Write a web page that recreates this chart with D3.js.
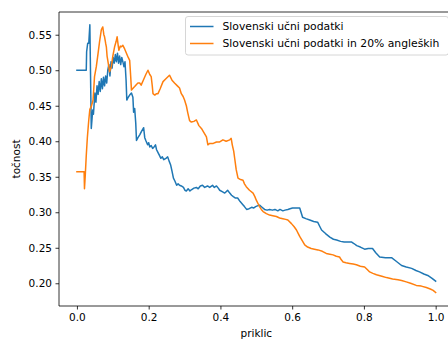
<!DOCTYPE html>
<html>
<head>
<meta charset="utf-8">
<script src="https://cdn.jsdelivr.net/npm/d3@7"></script>
<style>
  body { margin: 0; background: #fff; }
  text { font-family: "DejaVu Sans", sans-serif; }
</style>
</head>
<body>
<svg id="chart" width="448" height="340"></svg>
<script>
// Precision–recall curves: [priklic, točnost]
const seriesNames = ["Slovenski učni podatki", "Slovenski učni podatki in 20% angleških"];
const seriesColors = ["#1f77b4", "#ff7f0e"];

const curveSl = [
  [0, 0.50], [0.026, 0.50], [0.027, 0.526], [0.030, 0.538], [0.033, 0.538], [0.036, 0.564],
  [0.040, 0.418], [0.044, 0.444], [0.046, 0.438], [0.050, 0.468], [0.053, 0.455], [0.056, 0.478],
  [0.059, 0.466], [0.062, 0.484], [0.065, 0.470], [0.068, 0.488], [0.071, 0.474], [0.074, 0.490],
  [0.077, 0.478], [0.080, 0.492], [0.083, 0.482], [0.086, 0.500], [0.089, 0.508], [0.092, 0.492],
  [0.095, 0.512], [0.098, 0.503], [0.101, 0.518], [0.104, 0.510], [0.107, 0.522], [0.110, 0.512],
  [0.113, 0.524], [0.116, 0.510], [0.119, 0.520], [0.122, 0.508], [0.125, 0.518], [0.128, 0.512],
  [0.131, 0.505], [0.134, 0.512], [0.137, 0.486], [0.139, 0.458], [0.143, 0.462], [0.147, 0.465],
  [0.152, 0.468], [0.156, 0.462], [0.158, 0.441], [0.161, 0.446], [0.164, 0.425], [0.166, 0.401],
  [0.170, 0.405], [0.175, 0.409], [0.180, 0.414], [0.186, 0.419], [0.189, 0.405], [0.192, 0.401],
  [0.197, 0.395], [0.200, 0.398], [0.203, 0.392], [0.207, 0.394], [0.211, 0.390], [0.215, 0.392],
  [0.219, 0.395], [0.222, 0.388], [0.225, 0.385], [0.230, 0.380], [0.234, 0.376], [0.238, 0.378],
  [0.242, 0.374], [0.248, 0.376], [0.253, 0.378], [0.257, 0.372], [0.261, 0.367], [0.265, 0.358],
  [0.269, 0.348], [0.273, 0.344], [0.278, 0.338], [0.282, 0.340], [0.286, 0.338], [0.291, 0.337],
  [0.297, 0.335], [0.301, 0.331], [0.305, 0.330], [0.310, 0.333], [0.315, 0.330], [0.320, 0.332],
  [0.326, 0.334], [0.333, 0.335], [0.338, 0.333], [0.344, 0.337], [0.350, 0.338], [0.356, 0.335],
  [0.364, 0.337], [0.370, 0.335], [0.378, 0.338], [0.383, 0.335], [0.389, 0.337], [0.394, 0.334],
  [0.398, 0.331], [0.405, 0.329], [0.412, 0.327], [0.416, 0.329], [0.420, 0.331], [0.426, 0.327],
  [0.431, 0.324], [0.436, 0.322], [0.442, 0.320], [0.448, 0.320], [0.455, 0.315], [0.462, 0.311],
  [0.467, 0.308], [0.473, 0.304], [0.480, 0.305], [0.487, 0.307], [0.493, 0.306], [0.498, 0.308],
  [0.503, 0.309], [0.509, 0.310], [0.516, 0.307], [0.523, 0.304], [0.530, 0.303], [0.537, 0.304],
  [0.545, 0.303], [0.552, 0.304], [0.560, 0.302], [0.566, 0.304], [0.574, 0.302], [0.580, 0.303],
  [0.588, 0.304], [0.594, 0.305], [0.601, 0.306], [0.610, 0.306], [0.621, 0.306], [0.626, 0.298],
  [0.629, 0.293], [0.638, 0.291], [0.649, 0.289], [0.660, 0.287], [0.671, 0.286], [0.677, 0.280],
  [0.682, 0.275], [0.693, 0.270], [0.705, 0.265], [0.715, 0.262], [0.724, 0.261], [0.735, 0.259],
  [0.745, 0.258], [0.755, 0.258], [0.766, 0.258], [0.772, 0.256], [0.780, 0.253], [0.790, 0.251],
  [0.802, 0.248], [0.812, 0.249], [0.824, 0.249], [0.833, 0.243], [0.844, 0.237], [0.860, 0.236],
  [0.877, 0.236], [0.890, 0.231], [0.905, 0.225], [0.918, 0.223], [0.933, 0.221], [0.945, 0.218],
  [0.955, 0.216], [0.967, 0.213], [0.978, 0.211], [0.990, 0.207], [1.0, 0.203]
];

const curveMix = [
  [0, 0.357], [0.020, 0.357], [0.021, 0.333], [0.023, 0.350], [0.026, 0.380], [0.029, 0.405],
  [0.033, 0.430], [0.036, 0.445], [0.040, 0.449], [0.045, 0.458], [0.049, 0.491], [0.054, 0.505],
  [0.059, 0.524], [0.063, 0.540], [0.068, 0.557], [0.072, 0.561], [0.075, 0.550], [0.077, 0.547],
  [0.080, 0.538], [0.082, 0.533], [0.084, 0.520], [0.086, 0.514], [0.091, 0.498], [0.096, 0.505],
  [0.100, 0.520], [0.105, 0.533], [0.109, 0.540], [0.112, 0.547], [0.115, 0.535], [0.117, 0.528],
  [0.121, 0.534], [0.124, 0.533], [0.128, 0.535], [0.133, 0.530], [0.138, 0.524], [0.143, 0.518],
  [0.147, 0.514], [0.150, 0.490], [0.152, 0.472], [0.157, 0.475], [0.161, 0.477], [0.166, 0.480],
  [0.170, 0.482], [0.175, 0.482], [0.179, 0.479], [0.185, 0.486], [0.192, 0.494], [0.198, 0.500],
  [0.203, 0.494], [0.207, 0.491], [0.210, 0.478], [0.212, 0.467], [0.217, 0.465], [0.222, 0.467],
  [0.226, 0.467], [0.232, 0.474], [0.240, 0.484], [0.248, 0.488], [0.258, 0.493], [0.265, 0.486],
  [0.272, 0.482], [0.280, 0.478], [0.286, 0.475], [0.291, 0.467], [0.296, 0.463], [0.300, 0.458],
  [0.305, 0.450], [0.309, 0.440], [0.314, 0.429], [0.319, 0.427], [0.326, 0.428], [0.333, 0.430],
  [0.340, 0.422], [0.347, 0.418], [0.354, 0.412], [0.361, 0.406], [0.365, 0.395], [0.370, 0.397],
  [0.380, 0.397], [0.389, 0.399], [0.398, 0.399], [0.407, 0.402], [0.416, 0.400], [0.426, 0.402],
  [0.430, 0.404], [0.433, 0.395], [0.437, 0.386], [0.440, 0.375], [0.444, 0.360], [0.449, 0.348],
  [0.456, 0.346], [0.463, 0.345], [0.467, 0.340], [0.472, 0.336], [0.481, 0.331], [0.491, 0.327],
  [0.496, 0.322], [0.500, 0.317], [0.505, 0.312], [0.509, 0.308], [0.514, 0.304], [0.519, 0.301],
  [0.528, 0.298], [0.537, 0.296], [0.546, 0.295], [0.556, 0.294], [0.565, 0.292], [0.574, 0.291],
  [0.582, 0.290], [0.588, 0.289], [0.598, 0.284], [0.605, 0.280], [0.612, 0.275], [0.617, 0.270],
  [0.621, 0.266], [0.628, 0.260], [0.635, 0.254], [0.643, 0.251], [0.653, 0.249], [0.662, 0.248],
  [0.672, 0.247], [0.684, 0.245], [0.695, 0.242], [0.705, 0.241], [0.714, 0.240], [0.723, 0.238],
  [0.732, 0.237], [0.737, 0.233], [0.742, 0.230], [0.750, 0.229], [0.760, 0.228], [0.770, 0.227],
  [0.779, 0.226], [0.790, 0.224], [0.802, 0.223], [0.810, 0.219], [0.816, 0.216], [0.825, 0.214],
  [0.835, 0.212], [0.850, 0.210], [0.863, 0.208], [0.880, 0.206], [0.895, 0.205], [0.905, 0.204],
  [0.918, 0.202], [0.930, 0.200], [0.946, 0.197], [0.960, 0.196], [0.974, 0.194], [0.985, 0.192],
  [0.993, 0.190], [1.0, 0.187]
];

const xTicks = [0, 0.2, 0.4, 0.6, 0.8, 1.0];
const yTicks = [0.20, 0.25, 0.30, 0.35, 0.40, 0.45, 0.50, 0.55];
const xLabel = "priklic";
const yLabel = "točnost";

// Plot frame
const plotLeft = 59, plotTop = 12, plotBottom = 306, plotRight = 453.6;

const x = d3.scaleLinear().domain([-0.05, 1.05]).range([plotLeft, plotRight]);
const y = d3.scaleLinear().domain([0.168, 0.582]).range([plotBottom, plotTop]);

const svg = d3.select("#chart");

svg.append("defs").append("clipPath").attr("id", "plotclip")
  .append("rect").attr("x", plotLeft).attr("y", plotTop)
  .attr("width", plotRight - plotLeft).attr("height", plotBottom - plotTop);

// Curves
const line = d3.line().x(d => x(d[0])).y(d => y(d[1]));
[curveSl, curveMix].forEach((data, i) => {
  svg.append("path")
    .datum(data)
    .attr("clip-path", "url(#plotclip)")
    .attr("fill", "none")
    .attr("stroke", seriesColors[i])
    .attr("stroke-width", 1.5)
    .attr("stroke-linejoin", "round")
    .attr("stroke-linecap", "square")
    .attr("d", line);
});

// Axes
const tickFont = 10.5;
const labelFont = 10.5;
const legendFont = 10.8;
const xAxis = svg.append("g").attr("transform", `translate(0,${plotBottom})`)
  .call(d3.axisBottom(x).tickValues(xTicks).tickFormat(d3.format(".1f"))
    .tickSize(3.5).tickSizeOuter(0).tickPadding(4));
const yAxis = svg.append("g").attr("transform", `translate(${plotLeft},0)`)
  .call(d3.axisLeft(y).tickValues(yTicks).tickFormat(d3.format(".2f"))
    .tickSize(3.5).tickSizeOuter(0).tickPadding(3.5));

[xAxis, yAxis].forEach(g => {
  g.select(".domain").remove();
  g.selectAll(".tick line").attr("stroke", "#000").attr("stroke-width", 0.8);
  g.selectAll(".tick text").attr("fill", "#000").style("font-size", tickFont + "px")
    .style("font-family", "DejaVu Sans");
});

// Spines
const spines = svg.append("g").attr("stroke", "#000").attr("stroke-width", 0.8).attr("fill", "none");
spines.append("line").attr("x1", plotLeft).attr("x2", plotLeft).attr("y1", plotTop).attr("y2", plotBottom);
spines.append("line").attr("x1", plotLeft).attr("x2", plotRight).attr("y1", plotBottom).attr("y2", plotBottom);
spines.append("line").attr("x1", plotLeft).attr("x2", plotRight).attr("y1", plotTop).attr("y2", plotTop);
spines.append("line").attr("x1", plotRight).attr("x2", plotRight).attr("y1", plotTop).attr("y2", plotBottom);

// Axis labels
svg.append("text")
  .attr("x", (plotLeft + plotRight) / 2).attr("y", 336.5)
  .attr("text-anchor", "middle").style("font-size", labelFont + "px")
  .text(xLabel);
svg.append("text")
  .attr("transform", `translate(20,${(plotTop + plotBottom) / 2}) rotate(-90)`)
  .attr("text-anchor", "middle").style("font-size", labelFont + "px")
  .text(yLabel);

// Legend
const legend = svg.append("g");
legend.append("rect")
  .attr("x", 185.5).attr("y", 16.5).attr("width", 263).attr("height", 38.5)
  .attr("rx", 2.5).attr("fill", "#fff").attr("fill-opacity", 0.8)
  .attr("stroke", "#cccccc").attr("stroke-width", 0.8);
seriesNames.forEach((name, i) => {
  const cy = 26.5 + i * 17;
  legend.append("line")
    .attr("x1", 190).attr("x2", 213.5).attr("y1", cy).attr("y2", cy)
    .attr("stroke", seriesColors[i]).attr("stroke-width", 1.5);
  legend.append("text")
    .attr("x", 222.5).attr("y", cy + 3.9)
    .style("font-size", legendFont + "px")
    .text(name);
});
</script>
</body>
</html>
